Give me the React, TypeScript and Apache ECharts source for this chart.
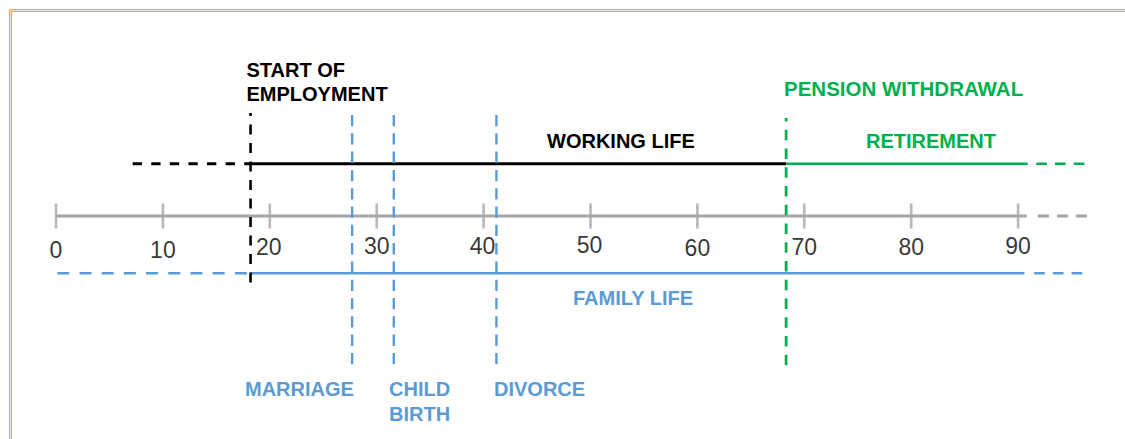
import React, { useEffect, useRef } from 'react';
import * as echarts from 'echarts';

// ---- data ----
const ageTicks = [0, 10, 20, 30, 40, 50, 60, 70, 80, 90];
const eventNames = ['START OF\nEMPLOYMENT', 'MARRIAGE', 'CHILD\nBIRTH', 'DIVORCE', 'PENSION WITHDRAWAL'];
const eventAges = [18.2, 27.7, 31.6, 41.2, 68.3];
const phaseNames = ['WORKING LIFE', 'RETIREMENT', 'FAMILY LIFE'];
const phaseStarts = [18.2, 68.3, 18.2];
const phaseEnds = [68.3, 90.9, 90.6];
const timelineEnd = 90.8;
const workingBefore = [7.17, 18.2];
const familyBefore = [0.12, 18.2];
const retirementAfter = [91.7, 96.2];
const timelineAfter = [91.86, 96.45];
const familyAfter = [91.5, 96.0];

// ---- styles / layout ----
const BLACK = '#000000';
const BLUE = '#5B9BD5';
const GREEN = '#00B050';
const GRAY = '#A6A6A6';
const FONT = '"Liberation Sans", Arial, sans-serif';

const AXIS_Y = 0;
const WORK_Y = 52.3;
const FAMILY_Y = -57.3;

// small vertical offsets of the tick labels, as in the reference drawing
const tickLabelDy = [3, 3, 0, -1, -1, -2, 1, 0, 0, -1];
const tickLabelDx = [0, 0, -1, 0, -1, -1, 0, 0, 0, 0];

const eventColors = [BLACK, BLUE, BLUE, BLUE, GREEN];
const eventSpans: [number, number][] = [[103, -73], [101, -149], [101, -149], [101, -149], [98, -149.3]];
const eventDash = [[10, 8.5], [11.3, 7], [11.3, 7], [11.3, 7], [10.5, 8.25]];
const eventDashOffset = [7, 0, 0, 0, 6.7];
const eventWidth = [2.6, 2.4, 2.4, 2.4, 2.8];

const eventLabelPos = [
  { x: 246.5, y: 82, lh: 24, size: 20 },
  { x: 245, y: 389, lh: 25, size: 20 },
  { x: 389, y: 401.5, lh: 25, size: 20 },
  { x: 494, y: 389, lh: 25, size: 20 },
  { x: 784, y: 88.5, lh: 24, size: 20.5 },
];
const phaseColors = [BLACK, GREEN, BLUE];
const phaseLabelPos = [
  { x: 547, y: 140.5 },
  { x: 866, y: 140.5 },
  { x: 573, y: 297.5 },
];
const phaseY = [WORK_Y, WORK_Y, FAMILY_Y];
const phaseWidth = [3, 2.6, 2.6];

function seg(x0: number, x1: number, y: number, color: string, width: number, type: any = 'solid', dashOffset = 0) {
  return {
    type: 'line',
    data: [[x0, y], [x1, y]],
    symbol: 'none',
    silent: true,
    z: 2,
    lineStyle: { color, width, type, dashOffset, cap: 'butt' },
  };
}

function vseg(x: number, y0: number, y1: number, color: string, width: number, type: any, dashOffset = 0) {
  return {
    type: 'line',
    data: [[x, y0], [x, y1]],
    symbol: 'none',
    silent: true,
    z: 3,
    lineStyle: { color, width, type, dashOffset, cap: 'butt' },
  };
}

function buildOption() {
  const series: any[] = [];
  // timeline axis
  series.push(seg(ageTicks[0], timelineEnd, AXIS_Y, GRAY, 3));
  series.push(seg(timelineAfter[0], timelineAfter[1], AXIS_Y, GRAY, 3, [11, 8]));
  series.push({
    type: 'scatter',
    data: ageTicks.map((v, i) => ({
      value: [v, AXIS_Y],
      label: { offset: [tickLabelDx[i], tickLabelDy[i]] },
    })),
    symbol: 'rect',
    symbolSize: [2.6, 25],
    silent: true,
    z: 2,
    itemStyle: { color: GRAY },
    label: {
      show: true,
      position: 'bottom',
      distance: 7,
      formatter: (p: any) => String(p.value[0]),
      color: BLACK,
      fontFamily: FONT,
      fontSize: 23,
    },
  });
  // phases
  phaseNames.forEach((_, i) => {
    series.push(seg(phaseStarts[i], phaseEnds[i], phaseY[i], phaseColors[i], phaseWidth[i]));
  });
  series.push(seg(workingBefore[0], workingBefore[1], WORK_Y, BLACK, 3, [9.3, 9.3]));
  series.push(seg(familyBefore[0], familyBefore[1], FAMILY_Y, BLUE, 2.6, [12, 10.2]));
  series.push(seg(retirementAfter[0], retirementAfter[1], WORK_Y, GREEN, 2.6, [10.7, 8]));
  series.push(seg(familyAfter[0], familyAfter[1], FAMILY_Y, BLUE, 2.6, [10.7, 8]));
  // events
  eventAges.forEach((age, i) => {
    series.push(vseg(age, eventSpans[i][0], eventSpans[i][1], eventColors[i], eventWidth[i], eventDash[i], eventDashOffset[i]));
  });

  const graphics: any[] = [];
  // frame (double orange line)
  graphics.push({ type: 'rect', silent: true, shape: { x: 10.5, y: 10.5, width: 1300, height: 600 }, style: { fill: 'none', stroke: '#FBE0CE', lineWidth: 3 } });
  graphics.push({ type: 'rect', silent: true, shape: { x: 9.5, y: 9.5, width: 1300, height: 600 }, style: { fill: 'none', stroke: '#F2A06C', lineWidth: 1 } });
  graphics.push({ type: 'rect', silent: true, shape: { x: 11.5, y: 11.5, width: 1300, height: 600 }, style: { fill: 'none', stroke: '#F2A06C', lineWidth: 1 } });

  eventNames.forEach((name, i) => {
    const p = eventLabelPos[i];
    graphics.push({
      type: 'text',
      x: p.x,
      y: p.y,
      silent: true,
      style: {
        text: name,
        fill: eventColors[i],
        fontFamily: FONT,
        fontWeight: 'bold',
        fontSize: p.size,
        lineHeight: p.lh,
        align: 'left',
        verticalAlign: 'middle',
        textAlign: 'left',
        textVerticalAlign: 'middle',
      },
    });
  });
  phaseNames.forEach((name, i) => {
    const p = phaseLabelPos[i];
    graphics.push({
      type: 'text',
      x: p.x,
      y: p.y,
      silent: true,
      style: {
        text: name,
        fill: phaseColors[i],
        fontFamily: FONT,
        fontWeight: 'bold',
        fontSize: 20,
        align: 'left',
        verticalAlign: 'middle',
        textAlign: 'left',
        textVerticalAlign: 'middle',
      },
    });
  });

  return {
    animation: false,
    backgroundColor: '#ffffff',
    grid: { left: 56, right: 0, top: 0, bottom: 0, containLabel: false, outerBoundsMode: 'none' },
    xAxis: {
      type: 'value',
      min: 0,
      max: 100,
      interval: 10,
      show: false,
      splitLine: { show: false },
    },
    yAxis: {
      type: 'value',
      min: -223,
      max: 216,
      show: false,
      splitLine: { show: false },
    },
    series,
    graphic: { elements: graphics },
  };
}

export default function App() {
  const ref = useRef<HTMLDivElement>(null);
  useEffect(() => {
    if (!ref.current) return;
    const chart = echarts.init(ref.current, null, { renderer: 'svg' });
    chart.setOption(buildOption() as any);
    return () => chart.dispose();
  }, []);
  return (
    <div
      ref={ref}
      style={{ position: 'absolute', left: 0, top: 0, width: 1125, height: 439, background: '#fff' }}
    />
  );
}
